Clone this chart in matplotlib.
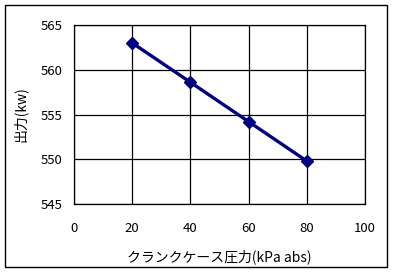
import matplotlib
matplotlib.use("Agg")
import matplotlib.pyplot as plt
from matplotlib.patches import Rectangle

plt.rcParams['font.family'] = ['Noto Sans CJK JP', 'DejaVu Sans']

pressure = [20, 40, 60, 80]
output_kw = [563.0, 558.6, 554.2, 549.8]
xticks = [0, 20, 40, 60, 80, 100]
yticks = [545, 550, 555, 560, 565]

fig = plt.figure(figsize=(3.94, 2.74), dpi=100)
ax = fig.add_axes([74/394, 1-204/274, (365-74)/394, (204-25)/274])
ax.plot(pressure, output_kw, color='#000080', lw=2.4, marker='D', ms=6, zorder=3)
ax.set_xlim(0, 100)
ax.set_ylim(545, 565)
ax.set_xticks(xticks)
ax.set_yticks(yticks)
ax.grid(True, color='black', lw=0.9)
for s in ax.spines.values():
    s.set_linewidth(0.9)
ax.tick_params(length=0, labelsize=9.5)
ax.tick_params(axis='x', pad=13)
ax.tick_params(axis='y', pad=8)
ax.set_xlabel('クランクケース圧力(kPa abs)', fontsize=10, labelpad=10)
ax.set_ylabel('出力(kw)', fontsize=10, labelpad=10)
fig.patches.append(Rectangle((5/394, 1-267/274), 382/394, 262/274, transform=fig.transFigure,
                             fill=False, edgecolor='black', lw=1))
fig.savefig('out.png', dpi=100)
